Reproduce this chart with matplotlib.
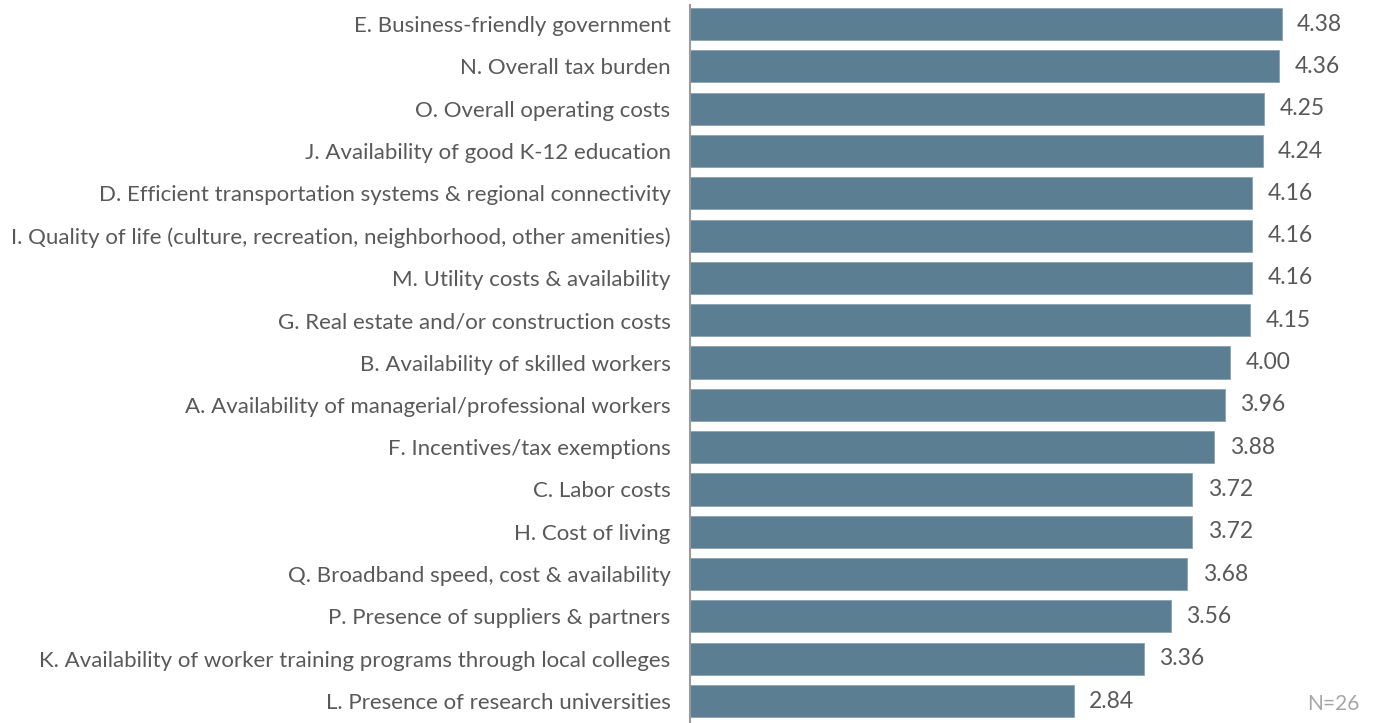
import matplotlib as mpl
import matplotlib.pyplot as plt

mpl.rcParams["font.family"] = ["Lato", "DejaVu Sans"]

# Mean importance rating per site-selection factor
factors = [
    "E. Business-friendly government",
    "N. Overall tax burden",
    "O. Overall operating costs",
    "J. Availability of good K-12 education",
    "D. Efficient transportation systems & regional connectivity",
    "I. Quality of life (culture, recreation, neighborhood, other amenities)",
    "M. Utility costs & availability",
    "G. Real estate and/or construction costs",
    "B. Availability of skilled workers",
    "A. Availability of managerial/professional workers",
    "F. Incentives/tax exemptions",
    "C. Labor costs",
    "H. Cost of living",
    "Q. Broadband speed, cost & availability",
    "P. Presence of suppliers & partners",
    "K. Availability of worker training programs through local colleges",
    "L. Presence of research universities",
]
scores = [4.38, 4.36, 4.25, 4.24, 4.16, 4.16, 4.16, 4.15, 4.00,
          3.96, 3.88, 3.72, 3.72, 3.68, 3.56, 3.36, 2.84]
sample_note = "N=26"

bar_color = "#5b7e92"
text_color = "#595959"

fig = plt.figure(figsize=(13.8, 7.23), dpi=100)
ax = fig.add_axes([0.5, 0.0, 0.5, 0.993])

ypos = list(range(len(factors)))
ax.barh(ypos, scores, height=0.76, color=bar_color,
        edgecolor="#8aa3b2", linewidth=0.6)

for y, v in zip(ypos, scores):
    ax.text(v + 0.115, y, f"{v:.2f}", va="center", ha="left",
            fontsize=16.5, color=text_color)

ax.set_yticks(ypos)
ax.set_yticklabels(factors, fontsize=16, color=text_color)
ax.tick_params(axis="y", length=0, pad=14)
ax.set_xticks([])

ax.set_xlim(0, 5.109)
ax.set_ylim(16.52, -0.45)

for side in ["top", "right", "bottom"]:
    ax.spines[side].set_visible(False)
ax.spines["left"].set_color("#9a9a9a")
ax.spines["left"].set_linewidth(1.5)

fig.text(0.985, 0.012, sample_note, ha="right", va="bottom",
         fontsize=15, color="#a6a6a6")

fig.savefig("out.png", dpi=100)
